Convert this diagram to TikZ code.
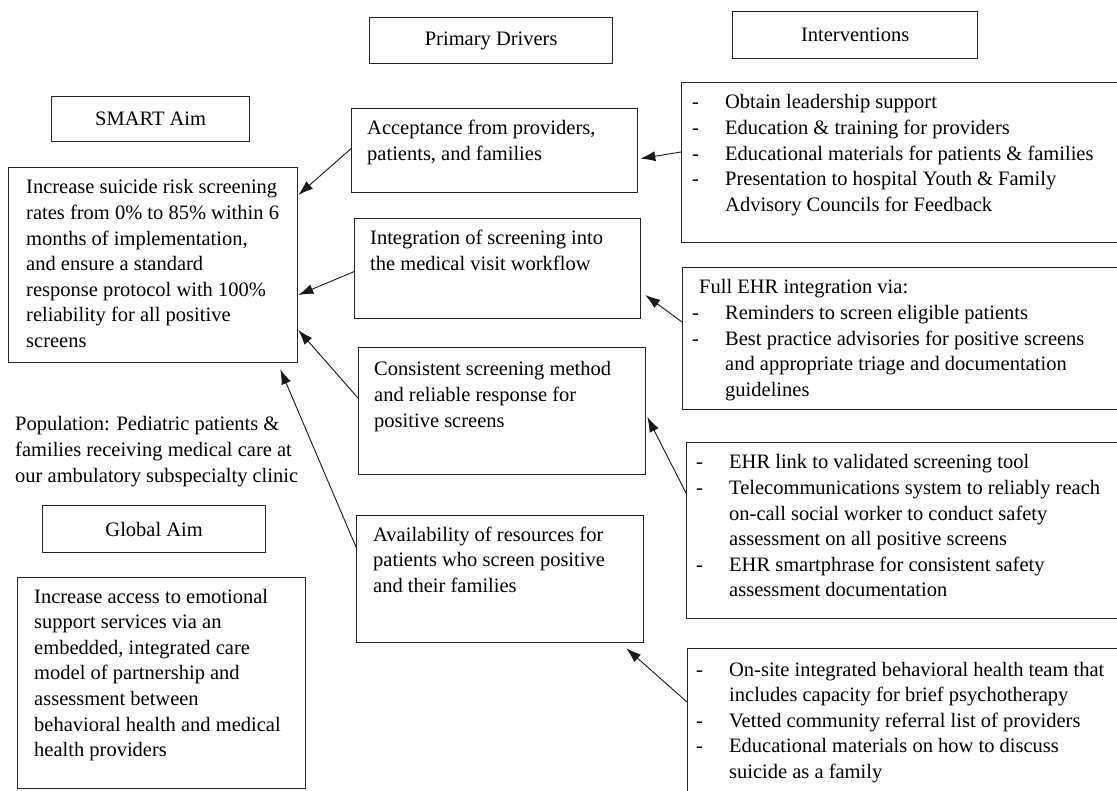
\documentclass[tikz,border=0pt]{standalone}
\usepackage{fontspec}
\setmainfont{Liberation Serif}
\usetikzlibrary{arrows.meta,calc}
\newcommand{\dl}{\makebox[33pt][l]{-}}
\newcommand{\il}{\hspace*{33pt}}
\begin{document}
\begin{tikzpicture}[x=1pt,y=-1pt,
  box/.style={draw=black!85,line width=1.3pt,inner sep=0pt,anchor=north west},
  hdr/.style={draw=black!85,line width=1.3pt,inner sep=0pt,anchor=north west,font=\fontsize{20.5}{25.6}\selectfont},
  txt/.style={inner sep=0pt,anchor=base west,font=\fontsize{20.5}{25.6}\selectfont},
  arr/.style={draw=black!90,line width=0.9pt,-{Latex[length=15pt,width=10pt]}}]
\clip (0,0) rectangle (1117,791);
\fill[white] (0,0) rectangle (1117,791);
% headers
\node[hdr,minimum width=198pt,minimum height=45pt] (smarth) at (51,96) {SMART Aim};
\node[hdr,minimum width=243pt,minimum height=46pt] (pdh) at (369,17) {Primary Drivers};
\node[hdr,minimum width=245pt,minimum height=47pt] (inh) at (732,11) {Interventions};
\node[hdr,minimum width=223pt,minimum height=47pt] (gah) at (42,505) {Global Aim};
% boxes
\node[box,minimum width=289pt,minimum height=195pt] (smart) at (8,167) {};
\node[box,minimum width=288pt,minimum height=211pt] (glob) at (17,577) {};
\node[box,minimum width=286pt,minimum height=84pt] (acc) at (351,108) {};
\node[box,minimum width=286pt,minimum height=100pt] (integ) at (354,218) {};
\node[box,minimum width=287pt,minimum height=127pt] (cons) at (358,347) {};
\node[box,minimum width=287pt,minimum height=127pt] (avail) at (356,515) {};
\node[box,minimum width=460pt,minimum height=160pt] (b1) at (681,82) {};
\node[box,minimum width=460pt,minimum height=142pt] (b2) at (682,267) {};
\node[box,minimum width=460pt,minimum height=176pt] (b3) at (686,442) {};
\node[box,minimum width=460pt,minimum height=170pt] (b4) at (687,648) {};
% texts
\node[txt] (smartt) at (26,194) {\parbox[t]{280pt}{Increase suicide risk screening\\rates from 0\% to 85\% within 6\\months of implementation,\\and ensure a standard\\response protocol with 100\%\\reliability for all positive\\screens}};
\node[txt] (popt) at (15,431) {\parbox[t]{330pt}{Population: Pediatric patients \&\\families receiving medical care at\\our ambulatory subspecialty clinic}};
\node[txt] (globt) at (34,603) {\parbox[t]{280pt}{Increase access to emotional\\support services via an\\embedded, integrated care\\model of partnership and\\assessment between\\behavioral health and medical\\health providers}};
\node[txt] (acct) at (367,135) {\parbox[t]{280pt}{Acceptance from providers,\\patients, and families}};
\node[txt] (integt) at (370,245) {\parbox[t]{280pt}{Integration of screening into\\the medical visit workflow}};
\node[txt] (const) at (374,376) {\parbox[t]{280pt}{Consistent screening method\\and reliable response for\\positive screens}};
\node[txt] (availt) at (373,541) {\parbox[t]{280pt}{Availability of resources for\\patients who screen positive\\and their families}};
\node[txt] (b1t) at (692,109) {\parbox[t]{440pt}{\dl Obtain leadership support\\\dl Education \& training for providers\\\dl Educational materials for patients \& families\\\dl Presentation to hospital Youth \& Family\\\il Advisory Councils for Feedback}};
\node[txt] (b2t) at (699,294) {\parbox[t]{440pt}{Full EHR integration via:\\\hspace*{-7pt}\dl Reminders to screen eligible patients\\\hspace*{-7pt}\dl Best practice advisories for positive screens\\\hspace*{-7pt}\il and appropriate triage and documentation\\\hspace*{-7pt}\il guidelines}};
\node[txt] (b3t) at (696,469) {\parbox[t]{440pt}{\dl EHR link to validated screening tool\\\dl Telecommunications system to reliably reach\\\il on-call social worker to conduct safety\\\il assessment on all positive screens\\\dl EHR smartphrase for consistent safety\\\il assessment documentation}};
\node[txt] (b4t) at (696,676) {\parbox[t]{440pt}{\dl On-site integrated behavioral health team that\\\il includes capacity for brief psychotherapy\\\dl Vetted community referral list of providers\\\dl Educational materials on how to discuss\\\il suicide as a family}};
% arrows
\draw[arr] ([yshift=2pt]acc.west) -- ([yshift=-28pt]smart.north east);
\draw[arr] ([yshift=-3pt]integ.west) -- ([yshift=-128pt]smart.north east);
\draw[arr] ([yshift=-51pt]cons.north west) -- ([yshift=-163pt]smart.north east);
\draw[arr] ([yshift=-32pt]avail.north west) -- ([xshift=-18pt,yshift=-6pt]smart.south east);
\draw[arr] ([yshift=-70pt]b1.north west) -- ([xshift=2pt,yshift=-8pt]acc.east);
\draw[arr] ([yshift=-55pt]b2.north west) -- ([xshift=4pt,yshift=-77pt]integ.north east);
\draw[arr] ([yshift=-51pt]b3.north west) -- ([xshift=1pt,yshift=-70pt]cons.north east);
\draw[arr] ([yshift=-54pt]b4.north west) -- ([xshift=-18pt,yshift=-5pt]avail.south east);
\end{tikzpicture}
\end{document}
